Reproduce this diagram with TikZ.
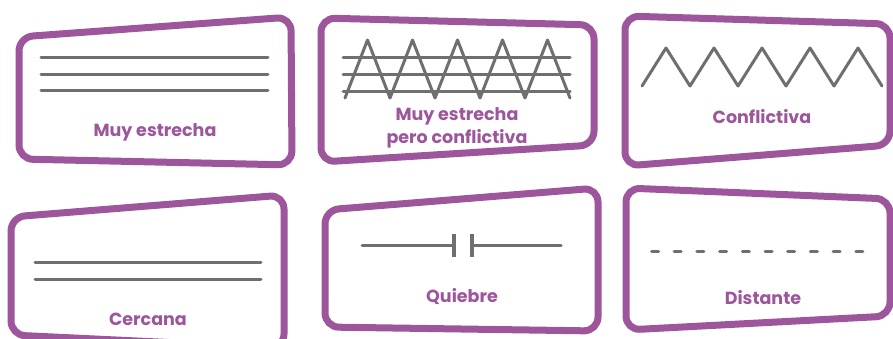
\documentclass[tikz,border=0pt]{standalone}
\usepackage{fontspec}
\setmainfont{Poppins}
\definecolor{morado}{RGB}{157,85,155}
\definecolor{gris}{RGB}{111,111,111}

\begin{document}
\begin{tikzpicture}[x=1pt,y=-1pt,
    marco/.style={draw=morado, line width=7pt, rounded corners=14pt},
    raya/.style={draw=gris, line width=3pt, line cap=round, line join=round},
    rotulo/.style={text=morado, font=\bfseries\fontsize{17.5}{23}\selectfont, align=center}]
    \useasboundingbox (0,0) rectangle (893,338);
    \clip (0,0) rectangle (893,338);
    % marcos de las tarjetas
    \draw[marco] (19,37) -- (291,17) -- (292,165) -- (19,159) -- cycle;
    \draw[marco] (321,18) -- (594,25) -- (594,145) -- (321,162) -- cycle;
    \draw[marco] (625,16) -- (890,24) -- (890,145) -- (625,166) -- cycle;
    \draw[marco] (11,217) -- (284,195) -- (284,348) -- (11,335) -- cycle;
    \draw[marco] (325,210) -- (598,188) -- (598,331) -- (325,327) -- cycle;
    \draw[marco] (626,188) -- (890,199) -- (890,316) -- (626,330) -- cycle;
    % muy estrecha
    \foreach \y in {57,74,90}
        \draw[raya] (41,\y) -- (268,\y);
    % muy estrecha pero conflictiva
    \foreach \y in {57,74,91}
        \draw[raya] (343,\y) -- (570,\y);
    \draw[raya] (345,98) \foreach \i in {0,...,4} {
        -- ({367.5+45*\i},40) -- ({390+45*\i},98)};
    % conflictiva
    \draw[raya] (642,86) \foreach \i in {0,...,4} {
        -- ({666+48*\i},48) -- ({690+48*\i},86)};
    % cercana
    \foreach \y in {262,279}
        \draw[raya] (35,\y) -- (261,\y);
    % quiebre
    \draw[raya] (362,245) -- (454,245);
    \draw[raya] (472,245) -- (561,245);
    \draw[raya, line width=4pt, line cap=butt] (454,234) -- (454,257);
    \draw[raya, line width=4pt, line cap=butt] (472,234) -- (472,257);
    % distante
    \draw[raya, dash pattern=on 7pt off 15.7pt] (651.5,251) -- (865,251);
    % rotulos
    \begin{scope}[every node/.style={rotulo}]
        \node (muy) at (155,132) {Muy estrecha};
        \node (pero) at (457,128) {Muy estrecha\\pero conflictiva};
        \node (confl) at (762,117) {Conflictiva};
        \node (cerca) at (148,319) {Cercana};
        \node (quieb) at (462,297) {Quiebre};
        \node (dist) at (763,298) {Distante};
    \end{scope}
\end{tikzpicture}
\end{document}
